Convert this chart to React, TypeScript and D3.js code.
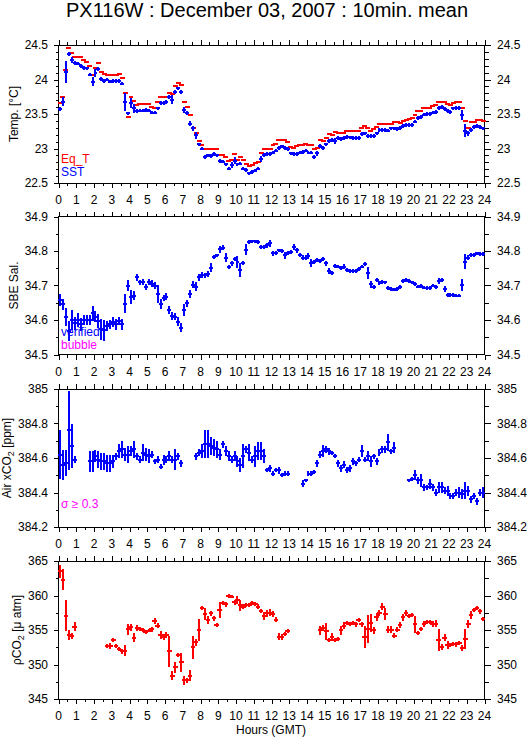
import React from "react";
import * as d3 from "d3";

const HOUR_LABELS = d3.range(0, 25).map(String);

const TEMP_TICKS = ["22.5", "23", "23.5", "24", "24.5"];
const SAL_TICKS = ["34.5", "34.6", "34.7", "34.8", "34.9"];
const AIR_TICKS = ["384.2", "384.4", "384.6", "384.8", "385"];
const PCO2_TICKS = ["345", "350", "355", "360", "365"];

const sst = [
  23.57,23.68,24.11,24.37,24.28,24.24,24.23,24.20,24.17,24.16,24.07,23.97,
  24.09,24.15,24.01,23.98,24.00,23.97,23.98,23.98,23.98,23.94,23.68,23.51,
  23.66,23.58,23.54,23.55,23.55,23.56,23.55,23.52,23.52,23.58,23.66,23.66,
  23.67,23.75,23.71,23.82,23.87,23.82,23.56,23.52,23.36,23.29,23.19,23.06,
  23.00,22.88,22.90,22.89,22.92,22.90,22.82,22.81,22.77,22.71,22.76,22.82,
  22.77,22.78,22.71,22.69,22.64,22.66,22.68,22.71,22.85,22.91,22.92,22.92,
  22.94,22.97,23.01,23.03,23.01,22.99,22.93,22.92,22.92,22.94,22.95,22.97,
  22.94,22.94,22.88,22.93,23.04,23.01,23.06,23.11,23.12,23.11,23.15,23.14,
  23.15,23.17,23.16,23.15,23.15,23.15,23.21,23.22,23.18,23.18,23.18,23.22,
  23.27,23.27,23.27,23.26,23.29,23.29,23.28,23.30,23.33,23.34,23.34,23.34,
  23.39,23.44,23.46,23.49,23.50,23.50,23.52,23.53,23.59,23.60,23.57,23.54,
  23.53,23.58,23.59,23.59,23.49,23.26,23.22,23.27,23.31,23.33,23.31,23.29,
];
const sstStd = [
  .02,.06,.16,.02,.04,.02,.02,.02,.02,.02,.02,.06,
  .06,.02,.02,.02,.02,.02,.02,.02,.02,.02,.13,.02,
  .07,.07,.02,.02,.02,.02,.02,.02,.02,.02,.02,.02,
  .02,.02,.06,.02,.02,.02,.04,.03,.04,.03,.05,.02,
  .02,.02,.02,.02,.02,.02,.02,.02,.02,.02,.04,.05,
  .02,.02,.02,.02,.02,.02,.02,.02,.04,.02,.02,.02,
  .02,.02,.02,.02,.02,.02,.02,.02,.02,.02,.02,.02,
  .02,.02,.03,.04,.02,.02,.02,.02,.02,.04,.02,.02,
  .02,.02,.02,.02,.02,.02,.02,.02,.02,.02,.02,.02,
  .02,.02,.02,.02,.02,.02,.02,.02,.02,.02,.02,.02,
  .02,.02,.02,.02,.02,.02,.02,.02,.02,.02,.02,.02,
  .02,.02,.02,.02,.07,.09,.04,.02,.02,.02,.02,.02,
];
const eqT = [
  23.66,23.75,24.14,24.46,24.38,24.33,24.33,24.33,24.28,24.25,24.20,24.06,
  24.16,24.24,24.11,24.08,24.06,24.07,24.07,24.07,24.08,24.02,23.80,23.45,
  23.74,23.69,23.63,23.64,23.65,23.65,23.64,23.60,23.58,23.68,23.75,23.75,
  23.75,23.81,23.79,23.90,23.95,23.92,23.68,23.60,23.49,23.30,23.23,23.11,
  23.05,22.99,22.99,23.00,23.00,23.00,22.91,22.91,22.87,22.82,22.84,22.92,
  22.84,22.87,22.83,22.78,22.74,22.76,22.79,22.80,22.94,23.00,23.00,23.00,
  23.05,23.07,23.12,23.13,23.12,23.09,23.02,23.01,23.03,23.05,23.05,23.06,
  23.05,23.05,22.99,23.01,23.13,23.11,23.15,23.21,23.20,23.24,23.23,23.23,
  23.23,23.26,23.25,23.25,23.25,23.25,23.29,23.32,23.29,23.26,23.28,23.31,
  23.36,23.36,23.36,23.36,23.36,23.38,23.39,23.37,23.40,23.41,23.43,23.44,
  23.48,23.55,23.55,23.58,23.58,23.58,23.62,23.63,23.67,23.68,23.67,23.64,
  23.63,23.66,23.68,23.68,23.59,23.40,23.30,23.38,23.39,23.41,23.41,23.40,
];

const sal = [
  34.659,34.645,34.609,34.568,34.600,34.590,34.600,34.587,34.600,34.600,34.600,34.620,
  34.610,34.597,34.573,34.570,34.582,34.587,34.595,34.587,34.597,34.587,34.647,34.700,
  34.667,34.671,34.724,34.709,34.710,34.695,34.710,34.705,34.700,34.675,34.647,34.664,
  34.667,34.630,34.611,34.609,34.595,34.578,34.628,34.649,34.676,34.702,34.697,34.724,
  34.731,34.729,34.733,34.752,34.783,34.787,34.805,34.810,34.781,34.753,34.764,34.778,
  34.768,34.745,34.766,34.804,34.826,34.828,34.828,34.826,34.812,34.812,34.817,34.822,
  34.793,34.795,34.802,34.800,34.788,34.795,34.797,34.812,34.802,34.788,34.781,34.781,
  34.785,34.766,34.769,34.774,34.771,34.776,34.764,34.742,34.737,34.756,34.755,34.750,
  34.755,34.745,34.742,34.742,34.742,34.747,34.755,34.762,34.737,34.704,34.695,34.716,
  34.707,34.710,34.709,34.692,34.690,34.688,34.690,34.695,34.713,34.716,34.713,34.709,
  34.704,34.697,34.699,34.694,34.692,34.692,34.700,34.695,34.713,34.716,34.690,34.673,
  34.673,34.672,34.671,34.671,34.702,34.769,34.781,34.788,34.788,34.793,34.791,34.791,
];
const salStd = [
  .017,.015,.027,.03,.028,.02,.02,.02,.015,.015,.015,.022,
  .015,.02,.03,.03,.015,.012,.015,.015,.012,.015,.027,.017,
  .02,.012,.01,.008,.008,.008,.008,.01,.01,.027,.015,.008,
  .01,.012,.012,.01,.013,.012,.017,.01,.012,.01,.012,.01,
  .008,.008,.008,.012,.005,.005,.01,.008,.013,.006,.008,.006,
  .017,.02,.006,.015,.006,.004,.004,.004,.006,.006,.007,.01,
  .008,.005,.005,.005,.01,.006,.006,.008,.008,.006,.008,.008,
  .008,.012,.006,.006,.005,.005,.008,.01,.005,.006,.005,.005,
  .008,.005,.005,.005,.005,.005,.005,.005,.017,.01,.005,.005,
  .005,.005,.005,.005,.005,.005,.005,.005,.005,.005,.005,.005,
  .005,.005,.005,.005,.005,.005,.005,.005,.008,.005,.008,.005,
  .004,.004,.004,.004,.017,.022,.008,.006,.005,.004,.004,.004,
];

const air = [
  384.62,384.56,384.57,384.76,384.67,384.59,null,null,null,null,384.58,384.58,
  384.61,384.59,384.58,384.58,384.57,384.57,384.58,384.61,384.64,384.65,384.62,384.62,
  384.64,384.65,384.61,384.59,384.63,384.62,384.61,384.62,384.58,384.59,384.55,384.59,
  384.59,384.61,384.59,384.59,384.61,384.57,null,null,null,null,384.61,384.63,
  384.64,384.68,384.68,384.67,384.66,384.65,384.62,384.68,384.64,384.61,384.59,384.61,
  384.58,384.56,384.61,384.65,384.63,384.59,384.61,384.64,384.64,384.61,384.53,384.54,
  384.51,384.53,384.53,384.50,384.51,384.51,null,null,null,null,384.45,384.47,
  384.51,384.51,384.52,384.57,384.62,384.64,384.65,384.64,384.63,384.61,384.57,384.54,
  384.56,384.53,384.54,384.58,384.57,384.59,384.64,384.59,384.61,384.58,384.61,384.58,
  384.63,384.65,384.65,384.69,384.64,384.66,null,null,null,null,384.47,384.48,
  384.50,384.47,384.47,384.43,384.43,384.45,384.43,384.40,384.43,384.43,384.41,384.41,
  384.38,384.38,384.40,384.40,384.39,384.41,384.41,384.36,384.38,384.35,384.40,384.40,
];
const airStd = [
  .14,.085,.075,.23,.13,.02,0,0,0,0,.06,.06,
  .035,.05,.05,.05,.05,.05,.04,.02,.04,.05,.04,.05,
  .03,.05,.02,.02,.05,.04,.04,.02,.015,.02,.015,.03,
  .02,.03,.02,.06,.02,.02,0,0,0,0,.02,.02,
  .04,.08,.08,.05,.05,.05,.03,.02,.03,.03,.02,.03,
  .03,.04,.07,.02,.05,.02,.06,.05,.05,.04,.01,.02,
  .015,.01,.02,.01,.015,.015,0,0,0,0,.02,.01,
  .015,.015,.01,.02,.02,.035,.02,.02,.01,.01,.02,.02,
  .02,.015,.02,.02,.015,.015,.035,.015,.03,.03,.015,.02,
  .02,.02,.02,.05,.015,.03,0,0,0,0,.01,.01,
  .03,.02,.04,.02,.015,.03,.02,.02,.03,.03,.02,.03,
  .02,.02,.02,.03,.03,.05,.03,.02,.02,.02,.02,.03,
];

const pco2 = [
  363.5,362.3,357.1,354.3,354.1,355.5,null,null,null,null,null,null,
  null,null,null,null,352.65,352.7,353.5,352.65,352.2,351.9,352.0,355.1,
  355.4,353.9,355.3,355.2,355.0,354.7,354.9,355.1,356.3,355.65,354.3,353.95,
  354.3,351.9,348.4,349.6,351.4,350.3,347.7,347.7,348.4,352.5,353.2,355.0,
  358.2,357.3,356.5,357.4,356.7,355.75,357.9,358.9,358.7,359.9,359.85,359.0,
  359.3,358.6,358.4,358.65,358.65,358.9,358.8,358.4,357.7,357.0,357.4,357.5,
  357.3,356.5,354.0,354.0,354.4,354.9,null,null,null,null,null,null,
  null,null,null,null,354.93,355.27,354.8,353.5,353.96,353.6,353.7,354.93,
  355.65,356.04,355.9,356.0,355.8,356.5,355.8,354.05,355.17,356.0,354.93,356.86,
  357.5,358.4,357.35,355.07,355.07,354.2,355.07,355.75,356.86,357.5,357.0,357.2,
  355.8,354.6,355.17,355.9,356.14,356.2,355.9,355.9,353.57,352.5,353.86,352.85,
  352.85,353.0,352.9,353.1,352.36,353.7,355.9,357.2,357.93,358.2,357.7,356.6,
];
const pco2Std = [
  .9,1.5,2.2,.7,.4,.7,0,0,0,0,0,0,
  0,0,0,0,.3,.4,.3,.3,.3,.4,.8,.8,
  .5,.6,.4,.3,.3,.2,.2,.4,.5,.3,.6,.4,
  .4,2.2,.6,.8,.3,1.4,.6,.4,.8,1.7,.5,1.6,
  .3,.9,.6,.4,.4,.3,1.2,.3,.3,.2,.2,.4,
  .6,.8,.3,.3,.3,.3,.3,.3,.3,.6,.5,.5,
  .4,.4,.5,.4,.3,.3,0,0,0,0,0,0,
  0,0,0,0,.7,.4,1.2,.3,.6,.3,.3,.6,
  .5,.3,.3,.3,.3,.3,.3,1.6,2.0,1.3,.5,.6,
  .4,.5,.9,.5,.5,.3,.3,.4,.5,.4,.3,.3,
  1.3,.3,.3,.4,.3,.3,.4,.5,1.6,.4,.5,.6,
  .3,.3,.3,.3,.4,1.5,.6,.6,.3,.3,.4,.3,
];

const FONT = "'Liberation Sans', Arial, Helvetica, sans-serif";
const BLUE = "#0000ff";
const RED = "#ff0000";
const MAGENTA = "#ff00ff";

const W = 529;
const H = 739;
const L = 58.5;
const R = 484.5;
const PH = 138;

const x = d3.scaleLinear().domain([0, 24]).range([L, R]);

type Series = { values: (number | null)[]; std?: number[]; color: string; bars: boolean; extra: number };

type PanelSpec = {
  top: number;
  domain: [number, number];
  tickLabels: string[];
  minorStep: number;
  series: Series[];
  ylabel: React.ReactNode;
  ylabelX: number;
  legend: { text: string; color: string; y: number }[];
};

function Panel({ p }: { p: PanelSpec }) {
  const y = d3.scaleLinear().domain(p.domain).range([p.top + PH, p.top]);
  const bottom = p.top + PH;
  const xt = d3.range(0, 24.001, 0.5);
  const nMinor = Math.round((p.domain[1] - p.domain[0]) / p.minorStep);
  const minor = d3.range(0, nMinor + 1).map((k) => p.domain[0] + k * p.minorStep);
  const major = p.tickLabels.map(Number);
  const isMajor = (v: number) => major.some((m) => Math.abs(m - v) < 1e-6);
  return (
    <g>
      <rect x={L} y={p.top} width={R - L} height={PH} fill="none" stroke="#000" strokeWidth={1} shapeRendering="crispEdges" />
      {xt.map((t) => {
        const len = Number.isInteger(t) ? 5 : 3;
        const xx = Math.round(x(t)) + 0.5;
        return (
          <g key={"xt" + t} shapeRendering="crispEdges" stroke="#000">
            <line x1={xx} x2={xx} y1={p.top} y2={p.top - len} />
            <line x1={xx} x2={xx} y1={bottom} y2={bottom + len} />
          </g>
        );
      })}
      {HOUR_LABELS.map((s, i) => (
        <text key={"hl" + s} x={x(i)} y={bottom + 21} textAnchor="middle" fontSize={12} fontFamily={FONT}>
          {s}
        </text>
      ))}
      {minor.map((v, k) => {
        const yy = Math.round(y(v)) + 0.5;
        const len = isMajor(v) ? 5 : 3;
        return (
          <g key={"yt" + k} shapeRendering="crispEdges" stroke="#000">
            <line x1={L} x2={L - len} y1={yy} y2={yy} />
            <line x1={R} x2={R + len + 1} y1={yy} y2={yy} />
          </g>
        );
      })}
      {p.tickLabels.map((s) => (
        <g key={"tl" + s}>
          <text x={48} y={y(Number(s)) + 4.3} textAnchor="end" fontSize={12} fontFamily={FONT}>
            {s}
          </text>
          <text x={497} y={y(Number(s)) + 4.3} textAnchor="start" fontSize={12} fontFamily={FONT}>
            {s}
          </text>
        </g>
      ))}
      <text
        transform={`translate(${p.ylabelX},${p.top + PH / 2}) rotate(-90)`}
        textAnchor="middle"
        fontSize={12}
        fontFamily={FONT}
      >
        {p.ylabel}
      </text>
      {p.series.map((s, si) => (
        <g key={"s" + si} stroke={s.color} strokeWidth={2} shapeRendering="crispEdges">
          {s.values.map((v, i) => {
            if (v === null) return null;
            const x0 = x(i / 6) - s.extra;
            const x1 = x((i + 1) / 6) + s.extra;
            const xc = x((i + 0.5) / 6);
            const yc = y(v);
            const sd = s.std ? s.std[i] : 0;
            const hh = Math.max(1.8, Math.abs(y(v + sd) - yc));
            return (
              <g key={i}>
                <line x1={x0} x2={x1} y1={yc} y2={yc} />
                {s.bars && <line x1={xc} x2={xc} y1={yc - hh} y2={yc + hh} />}
              </g>
            );
          })}
        </g>
      ))}
      {p.legend.map((l) => (
        <text key={l.text} x={61} y={l.y} fill={l.color} fontSize={12} fontFamily={FONT}>
          {l.text}
        </text>
      ))}
    </g>
  );
}

const panels: PanelSpec[] = [
  {
    top: 45,
    domain: [22.5, 24.5],
    tickLabels: TEMP_TICKS,
    minorStep: 0.1,
    series: [
      { values: eqT, color: RED, bars: false, extra: 1 },
      { values: sst, std: sstStd, color: BLUE, bars: true, extra: 0.5 },
    ],
    ylabel: "Temp. [°C]",
    ylabelX: 18,
    legend: [
      { text: "Eq_T", color: RED, y: 163 },
      { text: "SST", color: BLUE, y: 176 },
    ],
  },
  {
    top: 216.5,
    domain: [34.5, 34.9],
    tickLabels: SAL_TICKS,
    minorStep: 0.05,
    series: [{ values: sal, std: salStd, color: BLUE, bars: true, extra: 0.5 }],
    ylabel: "SBE Sal.",
    ylabelX: 18,
    legend: [
      { text: "verified", color: BLUE, y: 336 },
      { text: "bubble", color: MAGENTA, y: 349 },
    ],
  },
  {
    top: 389,
    domain: [384.2, 385],
    tickLabels: AIR_TICKS,
    minorStep: 0.1,
    series: [{ values: air, std: airStd, color: BLUE, bars: true, extra: 0.5 }],
    ylabel: (
      <>
        Air xCO<tspan dy={3} fontSize={9}>2</tspan>
        <tspan dy={-3}> [ppm]</tspan>
      </>
    ),
    ylabelX: 11,
    legend: [{ text: "σ ≥ 0.3", color: MAGENTA, y: 508 }],
  },
  {
    top: 561,
    domain: [345, 365],
    tickLabels: PCO2_TICKS,
    minorStep: 2.5,
    series: [{ values: pco2, std: pco2Std, color: RED, bars: true, extra: 0.8 }],
    ylabel: (
      <>
        ρCO<tspan dy={3} fontSize={9}>2</tspan>
        <tspan dy={-3}> [μ atm]</tspan>
      </>
    ),
    ylabelX: 21,
    legend: [],
  },
];

export default function App() {
  return (
    <svg
      width={W}
      height={H}
      viewBox={`0 0 ${W} ${H}`}
      style={{ position: "absolute", left: 0, top: 0, background: "#fff" }}
    >
      <rect x={0} y={0} width={W} height={H} fill="#fff" />
      <text x={267} y={17} textAnchor="middle" fontSize={20} fontFamily={FONT}>
        PX116W : December 03, 2007 : 10min. mean
      </text>
      {panels.map((p, i) => (
        <Panel key={i} p={p} />
      ))}
      <text x={271} y={734} textAnchor="middle" fontSize={12} fontFamily={FONT}>
        Hours (GMT)
      </text>
    </svg>
  );
}
